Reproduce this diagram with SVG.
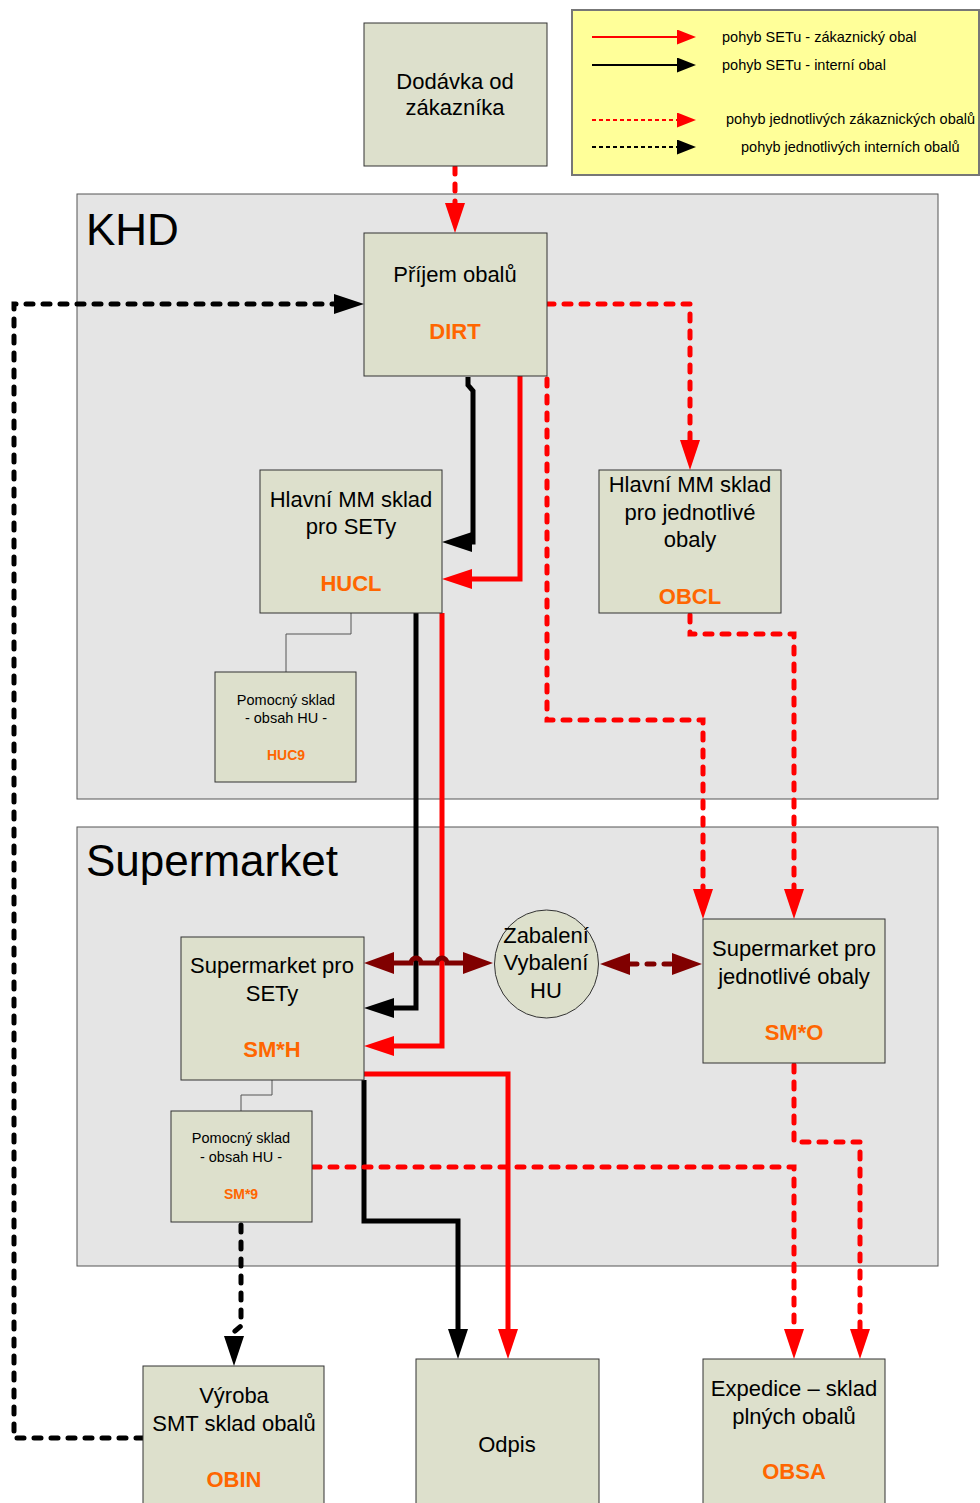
<svg xmlns="http://www.w3.org/2000/svg" width="980" height="1503" viewBox="0 0 980 1503">
<style>
.region{fill:#e5e5e5;stroke:#555;stroke-width:1}
.node{fill:#dde0cc;stroke:#333;stroke-width:1}
.t{font-family:"Liberation Sans",Arial,sans-serif;font-size:22px;fill:#000;text-anchor:middle}
.code{font-family:"Liberation Sans",Arial,sans-serif;font-size:22px;font-weight:bold;fill:#ff6600;text-anchor:middle}
.ts{font-family:"Liberation Sans",Arial,sans-serif;font-size:14.5px;fill:#000;text-anchor:middle}
.codes{font-family:"Liberation Sans",Arial,sans-serif;font-size:14px;font-weight:bold;fill:#ff6600;text-anchor:middle}
.rt{font-family:"Liberation Sans",Arial,sans-serif;font-size:44px;fill:#000}
.lt{font-family:"Liberation Sans",Arial,sans-serif;font-size:14.5px;fill:#000}
.red{fill:none;stroke:#ff0000;stroke-width:5}
.blk{fill:none;stroke:#000;stroke-width:5}
.mar{fill:none;stroke:#800000;stroke-width:5}
.dash{stroke-dasharray:7 10;stroke-linecap:round}
.help{fill:none;stroke:#555;stroke-width:1}
</style>
<defs>
<marker id="aR" markerUnits="userSpaceOnUse" markerWidth="30" markerHeight="20" refX="0" refY="10" orient="auto"><path d="M0,0 L30,10 L0,20 z" fill="#ff0000"/></marker>
<marker id="aB" markerUnits="userSpaceOnUse" markerWidth="30" markerHeight="20" refX="0" refY="10" orient="auto"><path d="M0,0 L30,10 L0,20 z" fill="#000"/></marker>
<marker id="aM" markerUnits="userSpaceOnUse" markerWidth="30" markerHeight="22" refX="0" refY="11" orient="auto-start-reverse"><path d="M0,0 L30,11 L0,22 z" fill="#800000"/></marker>
<marker id="lR" markerUnits="userSpaceOnUse" markerWidth="19" markerHeight="15" refX="0" refY="7.5" orient="auto"><path d="M0,0 L19,7.5 L0,15 z" fill="#ff0000"/></marker>
<marker id="lB" markerUnits="userSpaceOnUse" markerWidth="19" markerHeight="15" refX="0" refY="7.5" orient="auto"><path d="M0,0 L19,7.5 L0,15 z" fill="#000"/></marker>
</defs>

<g id="regions">
<rect class="region" x="77" y="194" width="861" height="605"/>
<text class="rt" x="86" y="245">KHD</text>
<rect class="region" x="77" y="827" width="861" height="439"/>
<text class="rt" x="86" y="876">Supermarket</text>
</g>

<g id="legend">
<rect x="572" y="10" width="407" height="165" fill="#ffff99" stroke="#777" stroke-width="2"/>
<path d="M592,37 H677" stroke="#ff0000" stroke-width="2" fill="none" marker-end="url(#lR)"/>
<path d="M592,65 H677" stroke="#000" stroke-width="2" fill="none" marker-end="url(#lB)"/>
<path d="M592,120 H677" stroke="#ff0000" stroke-width="2" stroke-dasharray="4 3" fill="none" marker-end="url(#lR)"/>
<path d="M592,147 H677" stroke="#000" stroke-width="2" stroke-dasharray="4 3" fill="none" marker-end="url(#lB)"/>
<text class="lt" x="722" y="42">pohyb SETu - zákaznický obal</text>
<text class="lt" x="722" y="70">pohyb SETu - interní obal</text>
<text class="lt" x="726" y="124">pohyb jednotlivých zákaznických obalů</text>
<text class="lt" x="741" y="152">pohyb jednotlivých interních obalů</text>
</g>

<g id="helpers">
<path class="help" d="M351,613 V634 H286 V672"/>
<path class="help" d="M272,1080 V1095 H241 V1111"/>
</g>

<g id="connectors">
<path class="red dash" d="M455,167 V203" marker-end="url(#aR)"/>
<path class="blk dash" d="M143,1438 H14 V304 H334" marker-end="url(#aB)"/>
<path class="red dash" d="M547,304 H690 V440" marker-end="url(#aR)"/>
<path class="blk" d="M468,377 V385 L473,391 V542 H472" marker-end="url(#aB)"/>
<path class="red" d="M520,376 V579 H472" marker-end="url(#aR)"/>
<path class="red dash" d="M547,379 V720 H703 V889" marker-end="url(#aR)"/>
<path class="red dash" d="M690,615 V634 H794 V889" marker-end="url(#aR)"/>
<path class="blk" d="M416,613 V1008 H394" marker-end="url(#aB)"/>
<path class="red" d="M442,613 V1046 H394" marker-end="url(#aR)"/>
<path class="red" d="M364,1074 H508 V1329" marker-end="url(#aR)"/>
<path class="blk" d="M364,1080 V1221 H458 V1329" marker-end="url(#aB)"/>
<path class="red dash" d="M313,1167 H794 V1329" marker-end="url(#aR)"/>
<path class="red dash" d="M794,1065 V1142 H860 V1329" marker-end="url(#aR)"/>
<path class="blk dash" d="M241,1225 V1326 L234,1332 V1336" marker-end="url(#aB)"/>
<path class="mar" d="M394,963 H411 a5,5 0 0 1 10,0 H437 a5,5 0 0 1 10,0 H463" marker-start="url(#aM)" marker-end="url(#aM)"/>
<path class="mar dash" d="M630,964 H672" marker-start="url(#aM)" marker-end="url(#aM)"/>
</g>

<g id="dodavka">
<rect class="node" x="364" y="23" width="183" height="143"/>
<text class="t" x="455" y="89">Dodávka od</text>
<text class="t" x="455" y="115">zákazníka</text>
</g>
<g id="prijem">
<rect class="node" x="364" y="233" width="183" height="143"/>
<text class="t" x="455" y="282">Příjem obalů</text>
<text class="code" x="455" y="339">DIRT</text>
</g>
<g id="hucl">
<rect class="node" x="260" y="470" width="182" height="143"/>
<text class="t" x="351" y="507">Hlavní MM sklad</text>
<text class="t" x="351" y="534">pro SETy</text>
<text class="code" x="351" y="591">HUCL</text>
</g>
<g id="huc9">
<rect class="node" x="215" y="672" width="141" height="110"/>
<text class="ts" x="286" y="705">Pomocný sklad</text>
<text class="ts" x="286" y="723">- obsah HU -</text>
<text class="codes" x="286" y="760">HUC9</text>
</g>
<g id="obcl">
<rect class="node" x="599" y="470" width="182" height="143"/>
<text class="t" x="690" y="492">Hlavní MM sklad</text>
<text class="t" x="690" y="520">pro jednotlivé</text>
<text class="t" x="690" y="547">obaly</text>
<text class="code" x="690" y="604">OBCL</text>
</g>
<g id="smh">
<rect class="node" x="181" y="937" width="183" height="143"/>
<text class="t" x="272" y="973">Supermarket pro</text>
<text class="t" x="272" y="1001">SETy</text>
<text class="code" x="272" y="1057">SM*H</text>
</g>
<g id="sm9">
<rect class="node" x="171" y="1111" width="141" height="111"/>
<text class="ts" x="241" y="1143">Pomocný sklad</text>
<text class="ts" x="241" y="1162">- obsah HU -</text>
<text class="codes" x="241" y="1199">SM*9</text>
</g>
<g id="zabaleni">
<ellipse class="node" cx="546.5" cy="964" rx="52" ry="54"/>
<text class="t" x="546" y="943">Zabalení</text>
<text class="t" x="546" y="970">Vybalení</text>
<text class="t" x="546" y="998">HU</text>
</g>
<g id="smo">
<rect class="node" x="703" y="919" width="182" height="144"/>
<text class="t" x="794" y="956">Supermarket pro</text>
<text class="t" x="794" y="984">jednotlivé obaly</text>
<text class="code" x="794" y="1040">SM*O</text>
</g>
<g id="vyroba">
<rect class="node" x="143" y="1366" width="181" height="140"/>
<text class="t" x="234" y="1403">Výroba</text>
<text class="t" x="234" y="1431">SMT sklad obalů</text>
<text class="code" x="234" y="1487">OBIN</text>
</g>
<g id="odpis">
<rect class="node" x="416" y="1359" width="183" height="147"/>
<text class="t" x="507" y="1452">Odpis</text>
</g>
<g id="expedice">
<rect class="node" x="703" y="1359" width="182" height="147"/>
<text class="t" x="794" y="1396">Expedice – sklad</text>
<text class="t" x="794" y="1424">plných obalů</text>
<text class="code" x="794" y="1479">OBSA</text>
</g>
</svg>
